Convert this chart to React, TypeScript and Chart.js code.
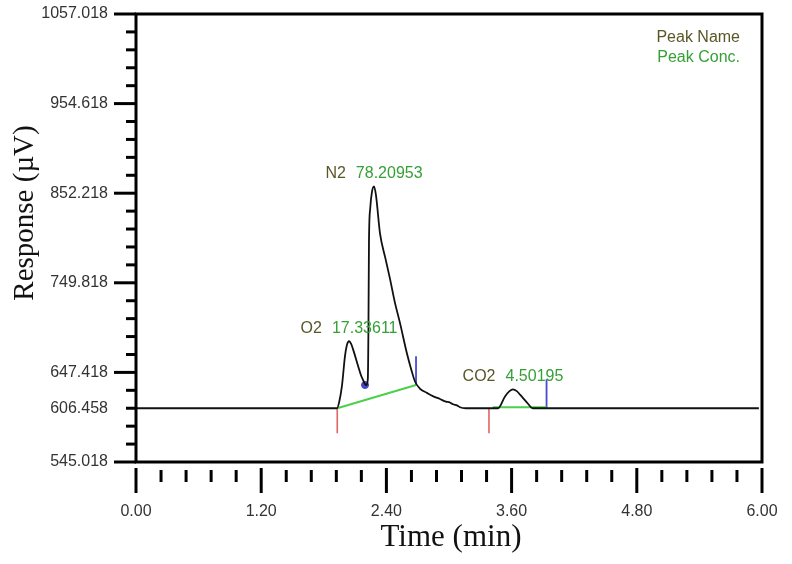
import React, { useEffect, useRef } from 'react';
import { Chart, registerables, Plugin } from 'chart.js';

Chart.register(...registerables);

// Chromatogram trace (time in min, response in µV)
const times = [
  0.0, 1.927, 1.95, 1.974, 2.003, 2.02, 2.042, 2.062, 2.08, 2.128, 2.16, 2.176, 2.195, 2.21,
  2.222, 2.228, 2.233, 2.245, 2.262, 2.281, 2.3, 2.339, 2.39, 2.435, 2.48, 2.53, 2.597, 2.64,
  2.674, 2.72, 2.789, 2.85, 2.914, 2.97, 3.0, 3.038, 3.08, 3.105, 3.16, 3.47, 3.537, 3.58,
  3.613, 3.65, 3.681, 3.748, 3.805, 5.97,
];
const responses = [
  606.458, 606.458, 615, 632, 666, 678, 683, 680, 674, 655, 643, 639, 634, 633,
  640, 700, 797, 835, 854, 860, 850, 806, 778, 754, 728, 704, 669, 650,
  637, 629, 624, 620, 617, 614, 613.5, 611, 609.5, 607.6, 606.458, 606.458, 620, 626,
  628, 626, 622, 613, 606.458, 606.458,
];

// Peak table
const peakNames = ['O2', 'N2', 'CO2'];
const peakConcs = ['17.33611', '78.20953', '4.50195'];
const peakTimes = [2.042, 2.281, 3.613];
const peakHeights = [683, 860, 628];

// Integration marks
const startMarkTimes = [0.0, 1.929, 3.383];
const startMarkTop = [606.458, 606.458, 606.458];
const startMarkBottom = [579, 578, 578];
const endMarkTimes = [0.0, 2.684, 3.935];
const endMarkBase = [606.458, 633, 606.458];
const endMarkTop = [640.7, 666, 639.6];
const baselineFromT = [1.929, 3.42];
const baselineFromV = [606.458, 607.5];
const baselineToT = [2.684, 3.935];
const baselineToV = [633, 607.5];
const valleyTimes = [2.195];
const valleyResponses = [633];

// Axis ticks
const yTicks = [
  545.018, 565.498, 585.978, 606.458, 626.938, 647.418, 667.898, 688.378, 708.858, 729.338,
  749.818, 770.298, 790.778, 811.258, 831.738, 852.218, 872.698, 893.178, 913.658, 934.138,
  954.618, 975.098, 995.578, 1016.058, 1036.538, 1057.018,
];
const yMajorTicks = [545.018, 647.418, 749.818, 852.218, 954.618, 1057.018];
const yLabelTicks = [545.018, 606.458, 647.418, 749.818, 852.218, 954.618, 1057.018];
const xTicks = [
  0.0, 0.24, 0.48, 0.72, 0.96, 1.2, 1.44, 1.68, 1.92, 2.16, 2.4, 2.64, 2.88, 3.12, 3.36, 3.6,
  3.84, 4.08, 4.32, 4.56, 4.8, 5.04, 5.28, 5.52, 5.76, 6.0,
];
const xMajorTicks = [0.0, 1.2, 2.4, 3.6, 4.8, 6.0];

const near = (list: number[], v: number) => list.some(t => Math.abs(t - v) < 1e-6);

const sansFont = '"Liberation Sans", Arial, sans-serif';
const serifFont = '"Liberation Serif", "Times New Roman", serif';
const nameColor = '#5a5628';
const concColor = '#35a035';

const decor: Plugin = {
  id: 'decor',
  afterDraw(chart) {
    const { ctx, chartArea: a, scales } = chart;
    const xs = scales.x;
    const ys = scales.y;
    ctx.save();

    // frame
    ctx.strokeStyle = '#000';
    ctx.lineWidth = 3;
    ctx.strokeRect(a.left, a.top, a.right - a.left, a.bottom - a.top);

    // tick marks
    yTicks.forEach(v => {
      const py = ys.getPixelForValue(v);
      const len = near(yMajorTicks, v) ? 22 : 10;
      ctx.beginPath();
      ctx.moveTo(a.left - len, py);
      ctx.lineTo(a.left, py);
      ctx.stroke();
    });
    xTicks.forEach(v => {
      const px = xs.getPixelForValue(v);
      const major = near(xMajorTicks, v);
      ctx.beginPath();
      ctx.moveTo(px, a.bottom + (major ? 6 : 8));
      ctx.lineTo(px, a.bottom + (major ? 31 : 20));
      ctx.stroke();
    });

    // peak labels
    ctx.font = '16px ' + sansFont;
    ctx.textAlign = 'left';
    ctx.textBaseline = 'alphabetic';
    peakNames.forEach((name, i) => {
      const px = xs.getPixelForValue(peakTimes[i]);
      const py = ys.getPixelForValue(peakHeights[i]);
      const wName = ctx.measureText(name).width;
      const wConc = ctx.measureText(peakConcs[i]).width;
      const x0 = px - (wName + 10 + wConc) / 2;
      ctx.fillStyle = nameColor;
      ctx.fillText(name, x0, py - 8);
      ctx.fillStyle = concColor;
      ctx.fillText(peakConcs[i], x0 + wName + 10, py - 8);
    });

    // legend
    ctx.textAlign = 'right';
    ctx.fillStyle = nameColor;
    ctx.fillText('Peak Name', a.right - 22, a.top + 28);
    ctx.fillStyle = concColor;
    ctx.fillText('Peak Conc.', a.right - 22, a.top + 48);

    // axis titles
    ctx.fillStyle = '#111';
    ctx.textAlign = 'center';
    ctx.font = '31px ' + serifFont;
    ctx.fillText('Time (min)', (a.left + a.right) / 2 + 2, 546);
    ctx.font = '29px ' + serifFont;
    ctx.translate(33, 213);
    ctx.rotate(-Math.PI / 2);
    ctx.fillText('Response (\u00b5V)', 0, 0);

    ctx.restore();
  },
};

const segmentSets = (
  t0: number[], v0: number[], t1: number[], v1: number[], color: string, width: number,
) =>
  t0.map((t, i) => ({
    data: [{ x: t, y: v0[i] }, { x: t1[i], y: v1[i] }],
    showLine: true,
    borderColor: color,
    borderWidth: width,
    pointRadius: 0,
  }));

const noScalePadding = (scale: any) => {
  scale.paddingTop = 0;
  scale.paddingBottom = 0;
  scale.paddingLeft = 0;
  scale.paddingRight = 0;
};

const App: React.FC = () => {
  const canvasRef = useRef<HTMLCanvasElement>(null);

  useEffect(() => {
    document.body.style.margin = '0';
    if (!canvasRef.current) return;
    const chart = new Chart(canvasRef.current, {
      type: 'scatter',
      data: {
        datasets: [
          {
            data: times.map((t, i) => ({ x: t, y: responses[i] })),
            showLine: true,
            borderColor: '#111',
            borderWidth: 1.8,
            pointRadius: 0,
            cubicInterpolationMode: 'monotone',
          },
          {
            data: valleyTimes.map((t, i) => ({ x: t, y: valleyResponses[i] })),
            pointRadius: 3.5,
            backgroundColor: '#4646c8',
            borderColor: '#4646c8',
          },
          ...segmentSets(baselineFromT, baselineFromV, baselineToT, baselineToV, '#4cd04c', 2),
          ...segmentSets(startMarkTimes, startMarkTop, startMarkTimes, startMarkBottom, '#e06666', 1.6),
          ...segmentSets(endMarkTimes, endMarkBase, endMarkTimes, endMarkTop, '#4a4ad0', 1.8),
        ],
      },
      options: {
        animation: false,
        responsive: true,
        maintainAspectRatio: false,
        layout: { padding: { left: 0, right: 30, top: 14, bottom: 0 } },
        plugins: { legend: { display: false }, tooltip: { enabled: false } },
        scales: {
          x: {
            type: 'linear',
            min: 0,
            max: 6,
            grid: { display: false, drawTicks: false },
            border: { display: false },
            afterBuildTicks: scale => {
              scale.ticks = xTicks.map(v => ({ value: v }));
            },
            afterFit: scale => {
              scale.height = 102;
              noScalePadding(scale);
            },
            ticks: {
              autoSkip: false,
              maxRotation: 0,
              padding: 40,
              color: '#333',
              font: { family: sansFont, size: 16 },
              callback: v => (near(xMajorTicks, Number(v)) ? Number(v).toFixed(2) : ''),
            },
          },
          y: {
            type: 'linear',
            min: 545.018,
            max: 1057.018,
            grid: { display: false, drawTicks: false },
            border: { display: false },
            afterBuildTicks: scale => {
              scale.ticks = yTicks.map(v => ({ value: v }));
            },
            afterFit: scale => {
              scale.width = 136;
              noScalePadding(scale);
            },
            ticks: {
              autoSkip: false,
              padding: 28,
              color: '#333',
              font: { family: sansFont, size: 16 },
              callback: v => (near(yLabelTicks, Number(v)) ? Number(v).toFixed(3) : ''),
            },
          },
        },
      },
      plugins: [decor],
    });
    return () => chart.destroy();
  }, []);

  return (
    <div style={{ width: 792, height: 564, background: '#fff', position: 'relative' }}>
      <canvas ref={canvasRef} />
    </div>
  );
};

export default App;
